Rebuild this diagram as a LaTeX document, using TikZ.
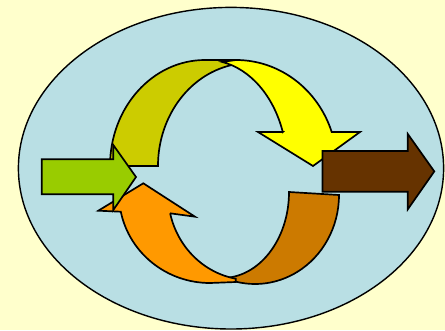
\documentclass[tikz,border=0pt]{standalone}
\usepackage{tikz}
\usepackage{xcolor}
\definecolor{mpaper}{RGB}{255,255,204}
\definecolor{mlake}{RGB}{185,223,228}
\definecolor{molive}{RGB}{204,204,0}
\definecolor{myellow}{RGB}{255,255,0}
\definecolor{mrust}{RGB}{204,122,0}
\definecolor{morange}{RGB}{255,153,0}
\definecolor{mgreen}{RGB}{153,204,0}
\definecolor{mbrown}{RGB}{102,51,0}

\begin{document}
\begin{tikzpicture}[x=0.025cm, y=0.025cm,
  part/.style={draw=black, line width=1.2pt},
  rim/.style={draw=black, line width=1pt, fill=mlake}
]
\fill[mpaper] (0,0) rectangle (445,330);
\useasboundingbox (0,0) rectangle (445,330);
\filldraw[rim] (231,161.8) ellipse [x radius=212.6, y radius=160.8];

% upper loop: shaded back half, then the half with the head
\filldraw[part, fill=molive] (110,164)
  arc[start angle=180, end angle=90, x radius=95, y radius=106]
  -- (236,270) -- (236,265.8)
  arc[start angle=98.75, end angle=180, x radius=92, y radius=103] -- cycle;
\filldraw[part, fill=myellow] (282.8,198) -- (258,198) -- (313,164) -- (360,198) -- (331.7,198)
  arc[start angle=18.71, end angle=90, x radius=101, y radius=106]
  -- (222,268.1)
  arc[start angle=79.2, end angle=18.71, x radius=80, y radius=106] -- cycle;

% lower loop
\filldraw[part, fill=mrust] (289,138) -- (339,135)
  arc[start angle=0, end angle=-105, x radius=84, y radius=89]
  -- (222,52)
  arc[start angle=270, end angle=360, x radius=67, y radius=86] -- cycle;
\filldraw[part, fill=morange] (170.1,116.7) -- (195,113.3) -- (143.3,146.7) -- (98.3,119.3) -- (120.8,118.3)
  arc[start angle=191.47, end angle=270, x radius=91, y radius=89]
  -- (235.8,48) -- (235.8,51.3)
  arc[start angle=260, end angle=192.97, x radius=82, y radius=86] -- cycle;

% in and out
\filldraw[part, fill=mgreen] (41.7,135.7) -- (113.3,135.7) -- (113.3,120) -- (136,153)
  -- (113.3,185) -- (113.3,170.7) -- (41.7,170.7) -- cycle;
\filldraw[part, fill=mbrown] (322.5,138.3) -- (407.8,138.3) -- (407.8,120.7) -- (434.3,158.6)
  -- (407.8,196) -- (407.8,179) -- (322.5,179) -- cycle;
\end{tikzpicture}
\end{document}
